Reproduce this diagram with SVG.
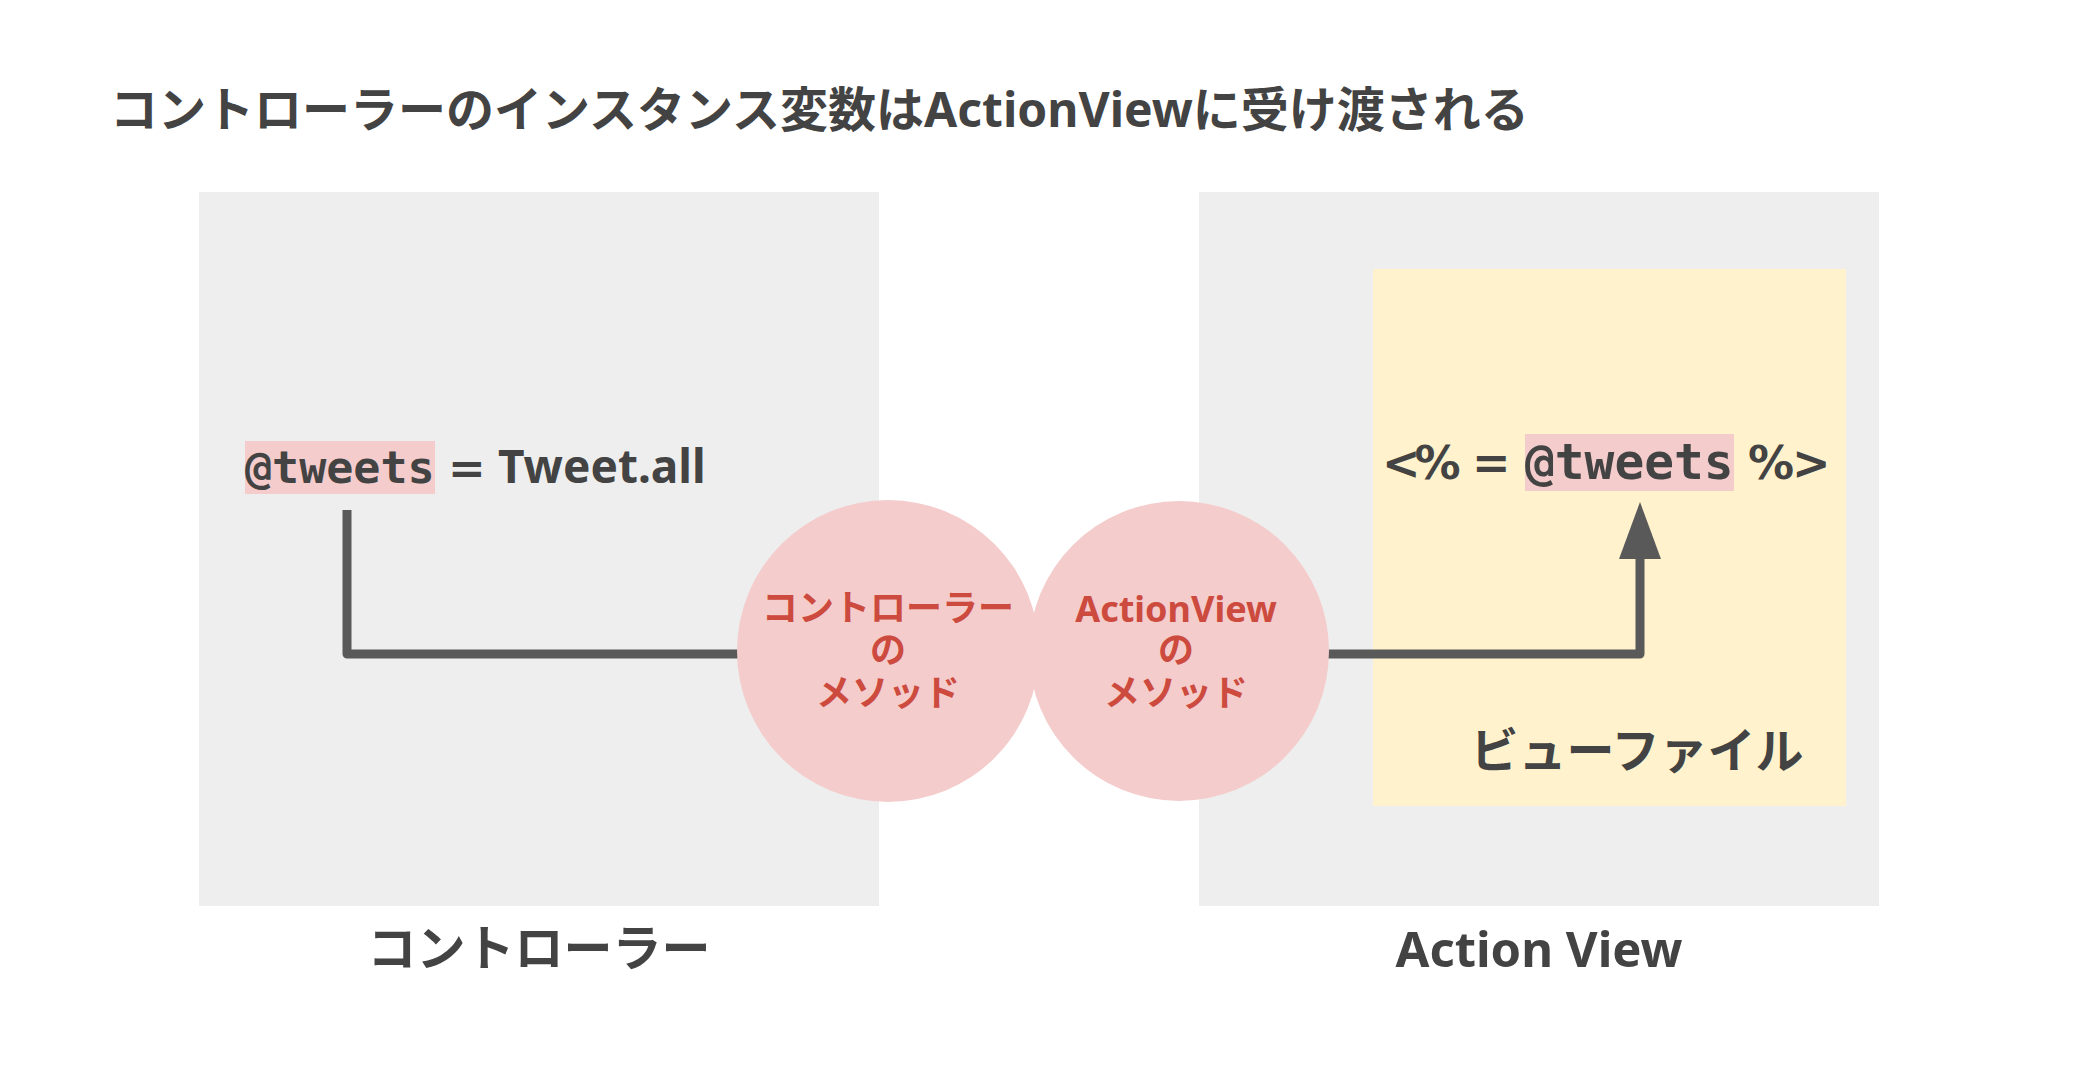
<svg xmlns="http://www.w3.org/2000/svg" width="2076" height="1076" viewBox="0 0 2076 1076">
<style>
.jp{font-family:"Noto Sans","Noto Sans CJK JP",sans-serif;font-weight:700;fill:#434343}
.dv{font-family:"DejaVu Sans","Noto Sans",sans-serif;font-weight:700;fill:#434343}
.mono{font-family:"DejaVu Sans Mono","Liberation Mono",monospace;font-weight:700;fill:#434343}
.red{font-family:"Noto Sans","Noto Sans CJK JP",sans-serif;font-weight:700;fill:#cc4a3e;font-size:36px;text-anchor:middle}
.box{fill:#eeeeee}
.hl{fill:#f4cccc}
.conn{fill:none;stroke:#595959;stroke-width:9;stroke-linejoin:round}
</style>
<rect width="2076" height="1076" fill="#ffffff"/>
<text id="title" class="jp" x="110" y="127" font-size="48">コントローラーのインスタンス変数はActionViewに受け渡される</text>
<g id="controller">
<rect class="box" x="199" y="192" width="680" height="714"/>
<text class="jp" x="539" y="966" font-size="49" text-anchor="middle">コントローラー</text>
</g>
<g id="actionview">
<rect class="box" x="1199" y="192" width="680" height="714"/>
<text class="jp" x="1539" y="967" font-size="49" text-anchor="middle">Action View</text>
</g>
<g id="viewfile">
<rect x="1373" y="269" width="473" height="537" fill="#fff2cc"/>
<text class="jp" x="1637" y="768" font-size="48" text-anchor="middle">ビューファイル</text>
</g>
<g id="code-controller">
<rect class="hl" x="245" y="441" width="190" height="53"/>
<text y="483"><tspan class="mono" x="245" font-size="45">@tweets</tspan><tspan class="dv" x="448" font-size="45">=</tspan><tspan class="jp" x="498" font-size="46">Tweet.all</tspan></text>
</g>
<g id="code-view">
<rect class="hl" x="1525" y="434" width="209" height="57"/>
<text y="479" class="dv" font-size="46"><tspan x="1382" letter-spacing="-6">&lt;%</tspan><tspan x="1472" letter-spacing="0">=</tspan><tspan class="mono" x="1525" font-size="49.5">@tweets</tspan><tspan x="1748" letter-spacing="-2">%&gt;</tspan></text>
</g>
<g id="connectors">
<polyline class="conn" points="347,510 347,654 740,654"/>
<polyline class="conn" points="1325,654 1640,654 1640,556"/>
<polygon points="1640,502 1619,559 1661,559" fill="#595959"/>
</g>
<g id="controller-method">
<circle cx="888" cy="651" r="151" fill="#f4cccc"/>
<text class="red" x="888" y="621">コントローラー</text>
<text class="red" x="888" y="663">の</text>
<text class="red" x="888" y="706">メソッド</text>
</g>
<g id="actionview-method">
<circle cx="1179" cy="651" r="150" fill="#f4cccc"/>
<text class="red" x="1176" y="622">ActionView</text>
<text class="red" x="1176" y="663">の</text>
<text class="red" x="1176" y="706">メソッド</text>
</g>
</svg>
